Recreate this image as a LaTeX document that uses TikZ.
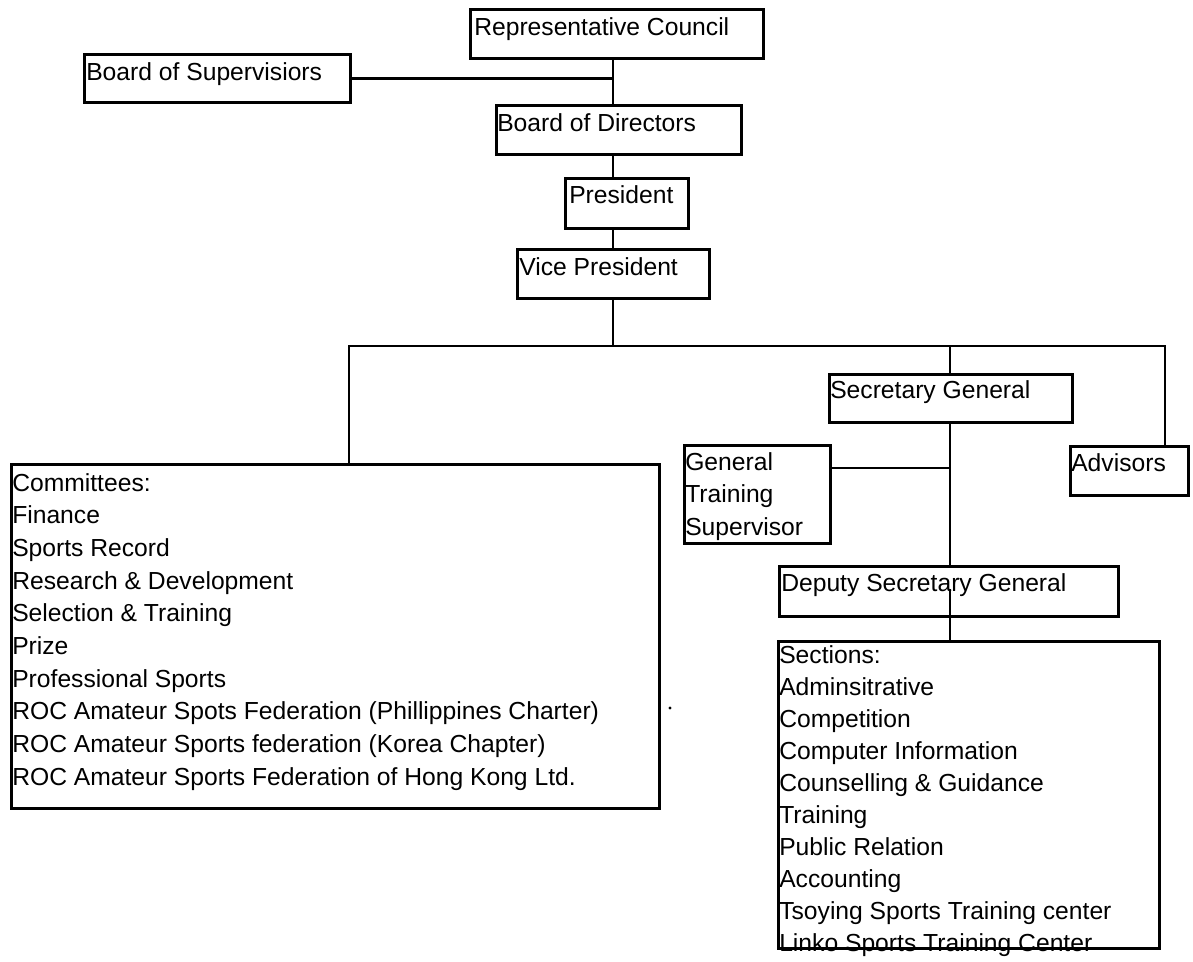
\documentclass[tikz,border=0pt]{standalone}
\usepackage{fontspec}
\setmainfont{Liberation Sans}
\begin{document}
% units: one step = 0.75pt, y grows downwards
\begin{tikzpicture}[x=0.75pt,y=-0.75pt]
\tikzset{
  box/.style={draw=black, line width=2pt, rectangle, inner sep=0pt, anchor=north west},
  lbl/.style={anchor=base west, inner sep=0pt, text=black},
  wire/.style={line width=2pt, draw=black},
}
\newcommand{\lblfont}{\fontsize{18.5pt}{24.4pt}\selectfont}
\fill[white] (0,0) rectangle (1193,961);
\useasboundingbox (0,0) rectangle (1193,961);

% ---- boxes ----
\node[box, minimum width={293*0.75pt}, minimum height={49*0.75pt}] (rc)   at (469,8)   {};
\node[box, minimum width={266*0.75pt}, minimum height={48*0.75pt}] (bos)  at (83,53)   {};
\node[box, minimum width={245*0.75pt}, minimum height={49*0.75pt}] (bod)  at (495,104) {};
\node[box, minimum width={123*0.75pt}, minimum height={50*0.75pt}] (pres) at (564,177) {};
\node[box, minimum width={192*0.75pt}, minimum height={49*0.75pt}] (vp)   at (516,248) {};
\node[box, minimum width={648*0.75pt}, minimum height={344*0.75pt}] (com) at (10,463)  {};
\node[box, minimum width={243*0.75pt}, minimum height={48*0.75pt}] (sg)   at (828,373) {};
\node[box, minimum width={146*0.75pt}, minimum height={98*0.75pt}] (gts)  at (683,444) {};
\node[box, minimum width={118*0.75pt}, minimum height={49*0.75pt}] (adv)  at (1069,445) {};
\node[box, minimum width={339*0.75pt}, minimum height={50*0.75pt}] (dep)  at (778,565) {};

% ---- labels ----
\node[lbl, font=\lblfont] (rc-t)   at (474,35)  {Representative Council};
\node[lbl, font=\lblfont] (bos-t)  at (86,80)   {Board of Supervisiors};
\node[lbl, font=\lblfont] (bod-t)  at (497,131) {Board of Directors};
\node[lbl, font=\lblfont] (pres-t) at (569,203) {President};
\node[lbl, font=\lblfont] (vp-t)   at (519,275) {Vice President};
\node[lbl, font=\lblfont] (sg-t)   at (830,398) {Secretary General};
\node[lbl, font=\lblfont] (adv-t)  at (1071,471) {Advisors};
\node[lbl, font=\lblfont] (dep-t)  at (781,591) {Deputy Secretary General};
\node[lbl] (gts-t) at (685,470) {\parbox[t]{140pt}{\raggedright\lblfont
  General\\Training\\Supervisor}};
\node[lbl] (com-t) at (12,491) {\parbox[t]{480pt}{\raggedright\fontsize{18.5pt}{24.5pt}\selectfont
  Committees:\\
  Finance\\
  Sports Record\\
  Research \& Development\\
  Selection \& Training\\
  Prize\\
  Professional Sports\\
  ROC Amateur Spots Federation (Phillippines Charter)\\
  ROC Amateur Sports federation (Korea Chapter)\\
  ROC Amateur Sports Federation of Hong Kong Ltd.}};
\node[lbl] (sec-t) at (779,663) {\parbox[t]{300pt}{\raggedright\fontsize{18.5pt}{24pt}\selectfont
  Sections:\\
  Adminsitrative\\
  Competition\\
  Computer Information\\
  Counselling \& Guidance\\
  Training\\
  Public Relation\\
  Accounting\\
  Tsoying Sports Training center\\
  Linko Sports Training Center}};
% the sections frame is drawn over its last line
\node[box, minimum width={381*0.75pt}, minimum height={307*0.75pt}] (sec) at (777,640) {};

% ---- connectors ----
\coordinate (sp) at (613,0);
\coordinate (bl) at (349,346);
\coordinate (br) at (1165,346);
\coordinate (ss) at (950,346);
\coordinate (gj) at (950,468);
\coordinate (dj) at (950,589);

\draw[wire] (rc.south -| sp) -- (bod.north -| sp);
\draw[wire] (bos.east) -- (bos.east -| sp);
\draw[wire] (bod.south -| sp) -- (pres.north -| sp);
\draw[wire] (pres.south -| sp) -- (vp.north -| sp);
\draw[wire] (vp.south -| sp) -- (bl -| sp);
\draw[wire] (com.north -| bl) -- (bl) -- (br) -- (adv.north -| br);
\draw[wire] (ss) -- (sg.north -| ss);
\draw[wire] (sg.south -| ss) -- (dep.north -| ss);
\draw[wire] (gts.east |- gj) -- (gj);
\draw[wire] (dj) -- (sec.north -| dj);

% small printed speck beside the committees frame
\fill[black] (670,708) circle (1.6);
\end{tikzpicture}
\end{document}
